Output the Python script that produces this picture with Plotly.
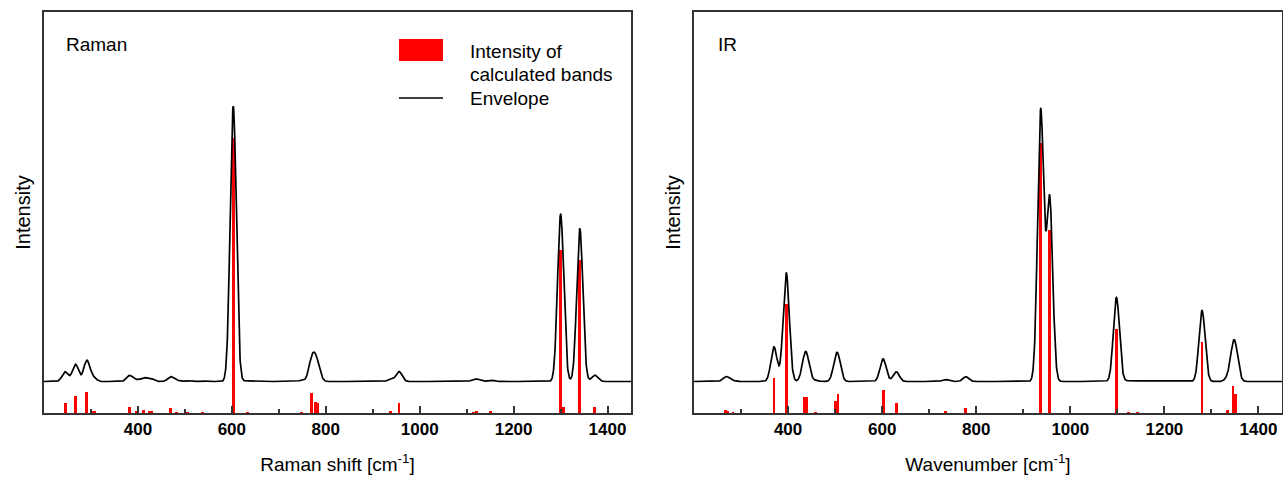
import numpy as np
import plotly.graph_objects as go

# ---------------- data ----------------
raman_pos = [245, 267, 291, 303, 307, 382, 396, 412, 424, 430, 470, 483, 506, 538,
             603, 633, 748, 770, 778, 783, 938, 956, 1114, 1121, 1151,
             1300, 1306, 1341, 1373]
raman_int = [9.7, 17.3, 20.7, 2.5, 1.5, 6.0, 1.5, 3.3, 2.0, 1.5, 4.7, 1.0, 1.0, 0.7,
             275.3, 0.7, 1.0, 19.7, 11.3, 9.7, 2.0, 10.0, 1.0, 2.0, 1.5,
             163.0, 6.3, 153.0, 6.3]

ir_pos = [267, 272, 283, 370, 396, 435, 440, 458, 501, 506, 602, 630, 734, 778,
          937, 956, 1098, 1123, 1143, 1280, 1335, 1346, 1352]
ir_int = [3.3, 2.0, 0.7, 34.7, 109.0, 16.3, 16.0, 1.0, 12.3, 19.0, 22.7, 9.7, 2.0, 4.7,
          270.3, 183.0, 84.0, 0.7, 0.7, 71.0, 3.0, 27.0, 19.0]

x_ticks = [400, 600, 800, 1000, 1200, 1400]
envelope_offset = 31.5     # vertical shift of the envelope above the stick spectrum
band_fwhm = 15.3           # Gaussian broadening used for the envelope (cm-1)

# ---------------- helpers ----------------
W, H = 1283, 479


def envelope(pos, inten):
    xg = np.arange(200, 1450.01, 0.5)
    y = np.full_like(xg, envelope_offset)
    for p, h in zip(pos, inten):
        y += h * np.exp(-4 * np.log(2) * (xg - p) ** 2 / band_fwhm ** 2)
    return xg, y


fig = go.Figure()

for pos, inten, xa, ya in [(raman_pos, raman_int, "x", "y"), (ir_pos, ir_int, "x2", "y2")]:
    fig.add_trace(go.Bar(x=pos, y=inten, width=6, marker=dict(color="#ff0000", line=dict(width=0)),
                         xaxis=xa, yaxis=ya, showlegend=False))
    ex, ey = envelope(pos, inten)
    fig.add_trace(go.Scatter(x=ex, y=ey, mode="lines", line=dict(color="black", width=1.7),
                             xaxis=xa, yaxis=ya, showlegend=False))

font_family = "Liberation Sans, Arial, sans-serif"
axis_common = dict(
    range=[200, 1450], tickmode="array", tickvals=x_ticks,
    ticks="inside", ticklen=7, tickwidth=1.5, tickcolor="#333333",
    minor=dict(ticks="inside", ticklen=4, tickwidth=1.5, tickcolor="#333333", dtick=100, tick0=0),
    showline=True, mirror=True, linecolor="#333333", linewidth=1.5,
    showgrid=False, zeroline=False, automargin=False,
    tickfont=dict(family=font_family, size=17, color="black", weight="bold"),
)
yaxis_common = dict(
    range=[0, 401], showticklabels=False, ticks="",
    showline=True, mirror=True, linecolor="#333333", linewidth=1.5,
    showgrid=False, zeroline=False, automargin=False,
    title=dict(text="Intensity", font=dict(family=font_family, size=20, color="black"), standoff=6),
)

ybot = (H - 413) / H
ytop = (H - 12) / H

fig.update_layout(
    width=W, height=H, margin=dict(l=0, r=0, t=0, b=0),
    paper_bgcolor="white", plot_bgcolor="white", bargap=0,
    xaxis=dict(domain=[44 / W, 631 / W], anchor="y",
               title=dict(text="Raman shift [cm<sup>-1</sup>]",
                          font=dict(family=font_family, size=19, color="black"), standoff=20),
               **axis_common),
    xaxis2=dict(domain=[694 / W, 1282 / W], anchor="y2",
                title=dict(text="Wavenumber [cm<sup>-1</sup>]",
                           font=dict(family=font_family, size=19, color="black"), standoff=20),
                **axis_common),
    yaxis=dict(domain=[ybot, ytop], anchor="x", **yaxis_common),
    yaxis2=dict(domain=[ybot, ytop], anchor="x2", **yaxis_common),
    font=dict(family=font_family, color="black"),
)

# panel labels
fig.add_annotation(x=64 / W, y=1 - 44 / H, xref="paper", yref="paper", text="Raman", showarrow=False,
                   xanchor="left", yanchor="middle", font=dict(family=font_family, size=19, color="black"))
fig.add_annotation(x=716 / W, y=1 - 44 / H, xref="paper", yref="paper", text="IR", showarrow=False,
                   xanchor="left", yanchor="middle", font=dict(family=font_family, size=19, color="black"))

# legend (drawn manually)
fig.add_shape(type="rect", xref="paper", yref="paper", x0=399 / W, x1=443 / W,
              y0=1 - 61 / H, y1=1 - 39 / H, fillcolor="#ff0000", line=dict(width=0))
fig.add_shape(type="line", xref="paper", yref="paper", x0=399 / W, x1=443 / W,
              y0=1 - 98 / H, y1=1 - 98 / H, line=dict(color="black", width=1.5))
for txt, yy in [("Intensity of", 51), ("calculated bands", 74), ("Envelope", 98)]:
    fig.add_annotation(x=468 / W, y=1 - yy / H, xref="paper", yref="paper", text=txt, showarrow=False,
                       xanchor="left", yanchor="middle", font=dict(family=font_family, size=19, color="black"))

fig.write_html("out.html")
